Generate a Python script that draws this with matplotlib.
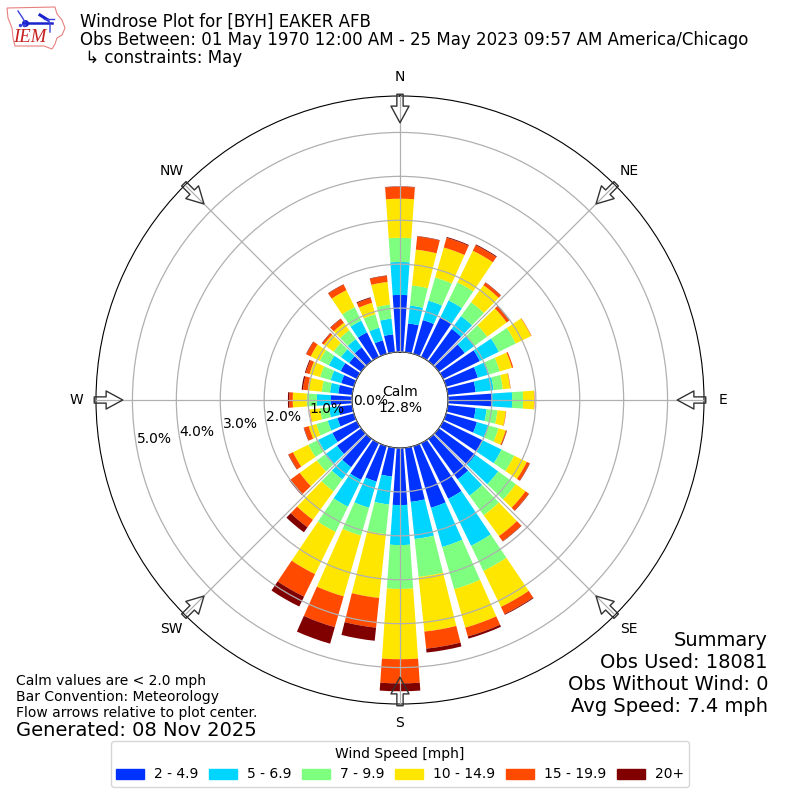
import numpy as np
import matplotlib
matplotlib.use("Agg")
import matplotlib.pyplot as plt
from matplotlib.patches import Patch, Polygon

directions = np.arange(0, 360, 10)
speed_labels = ["2 - 4.9", "5 - 6.9", "7 - 9.9", "10 - 14.9", "15 - 19.9", "20+"]
speed_colors = ["#0033ff", "#00d5ff", "#7fff7f", "#ffe600", "#ff4a00", "#800000"]

# percent of obs per direction bin, 0 to 350 degrees
speed_2_5 = [1.30, .66, .80, 1.00, .91, .73, .93, .75, .64, 1.00, .64, .73,
             1.00, 1.03, 1.14, 1.41, 1.46, 1.24, 1.30, .66, .84, .93, .80, .68,
             .62, .39, .32, .48, .32, .30, .41, .34, .39, .62, .32, .41]
speed_5_7 = [.75, .41, .46, .43, .36, .27, .48, .27, .41, .46, .25, .27,
             .48, .64, .46, 1.19, .93, .85, .91, .64, .62, .68, .34, .34,
             .36, .23, .21, .32, .19, .25, .30, .23, .23, .30, .30, .36]
speed_7_10 = [.55, .46, .55, .46, .39, .36, .43, .25, .21, .25, .25, .24,
              .32, .50, .55, .64, 1.00, .87, 1.00, .68, .66, .64, .34, .23,
              .25, .27, .21, .23, .19, .25, .23, .21, .25, .34, .32, .32]
speed_10_15 = [.89, .82, .71, .80, .48, .55, .39, .29, .17, .25, .19, .17,
               .32, .27, .59, .91, .91, 1.25, 1.60, 1.46, 1.44, 1.07, .80, .48,
               .39, .18, .23, .32, .32, .25, .23, .27, .21, .43, .27, .52]
speed_15_20 = [.27, .30, .23, .14, .07, .07, .01, .03, .01, .01, .01, .02,
               .07, .09, .14, .18, .21, .39, .55, .68, .73, .57, .21, .27,
               .11, .11, .01, .08, .11, .09, .11, .05, .11, .14, .11, .14]
speed_20_up = [.01, .01, .02, .02, .01, .01, 0, 0, 0, 0, 0, .01,
               .01, .01, .01, .02, .05, .09, .18, .30, .39, .25, .14, .02,
               .01, .01, 0, .03, .03, .02, .01, .01, .01, .01, .02, .01]
speed_series = [speed_2_5, speed_5_7, speed_7_10, speed_10_15, speed_15_20, speed_20_up]

compass = ["N", "NE", "E", "SE", "S", "SW", "W", "NW"]
compass_deg = np.arange(0, 360, 45)
ring_pct = [0, 1, 2, 3, 4, 5]

fig = plt.figure(figsize=(8, 8), dpi=100)
ax = fig.add_axes([96 / 800, 96 / 800, 608 / 800, 608 / 800], projection="polar")
ax.set_theta_zero_location("N")
ax.set_theta_direction(-1)
ax.set_axisbelow(False)

bottom = np.zeros(len(directions))
for vals, col in zip(speed_series, speed_colors):
    vals = np.array(vals)
    ax.bar(np.deg2rad(directions), vals, width=np.deg2rad(8), bottom=bottom,
           color=col, linewidth=0)
    bottom += vals

ax.set_rorigin(-1.093)
ax.set_rmin(0)
ax.set_rmax(5.83)
ax.set_rticks(ring_pct)
ax.set_yticklabels(["%.1f%%" % p for p in ring_pct], fontsize=10)
ax.set_rlabel_position(260)
ax.set_xticks(np.deg2rad(compass_deg))
ax.set_xticklabels(compass, fontsize=10)
ax.tick_params(axis="x", pad=3.5)
ax.grid(True, color="#b0b0b0", linewidth=0.9)

# flow arrows
for d in compass_deg:
    ax.annotate("", xy=(np.deg2rad(d), 5.22), xytext=(np.deg2rad(d), 5.87),
                annotation_clip=False,
                arrowprops=dict(width=4.5, headwidth=13, headlength=12, shrink=0,
                                fc="none", ec="#333333", lw=1))

ax.text(0.5, 0.5, "Calm\n12.8%", transform=ax.transAxes, ha="center",
        va="center", fontsize=10)

fig.text(0.1, 0.9835, "Windrose Plot for [BYH] EAKER AFB\n"
         "Obs Between: 01 May 1970 12:00 AM - 25 May 2023 09:57 AM America/Chicago\n"
         " ↳ constraints: May", va="top", ha="left", fontsize=12, linespacing=1.0)

fig.text(0.02, 0.0998, "Calm values are < 2.0 mph\nBar Convention: Meteorology\n"
         "Flow arrows relative to plot center.", va="bottom", ha="left", fontsize=10)
fig.text(0.02, 0.075, "Generated: 08 Nov 2025", va="bottom", ha="left", fontsize=14)
fig.text(0.96, 0.105, "Summary\nObs Used: 18081\nObs Without Wind: 0\nAvg Speed: 7.4 mph",
         va="bottom", ha="right", fontsize=14)

handles = [Patch(color=c, label=l) for c, l in zip(speed_colors, speed_labels)]
fig.legend(handles=handles, ncol=6, loc="lower center", bbox_to_anchor=(0.5, 0.0075),
           title="Wind Speed [mph]", fontsize=10, title_fontsize=10,
           columnspacing=0.8, handletextpad=0.7)

# IEM logo
logo = fig.add_axes([0, 1 - 55 / 800, 75 / 800, 55 / 800])
logo.set_xlim(0, 75)
logo.set_ylim(55, 0)
logo.axis("off")
outline = [(7, 8), (55, 7), (57, 14), (62, 20), (65, 28), (62, 35), (57, 38), (55, 44),
           (52, 49), (44, 46), (15, 46), (13, 38), (12, 28), (8, 18)]
logo.add_patch(Polygon(outline, closed=True, fc="none", ec="#e88080", lw=0.8))
logo.plot([25, 52], [23, 23], color="#1a22cc", lw=1.8)
logo.plot([25], [23], "o", color="#1a22cc", ms=4)
logo.plot([18, 22, 25], [11, 17, 22], color="#3a42dd", lw=1)
logo.plot([40, 48], [15, 20], color="#1a22cc", lw=2.2)
logo.plot([48, 50, 50], [20, 23, 32], color="#3a42dd", lw=1)
logo.plot([44, 54], [19, 19], color="#3a42dd", lw=1)
logo.plot([20, 24], [25, 25], ".", color="#3a42dd", ms=3)
logo.text(30, 37.5, "IEM", color="#c82020", family="Liberation Serif", style="italic",
          fontsize=13.5, ha="center", va="center")

fig.savefig("out.png", dpi=100)
